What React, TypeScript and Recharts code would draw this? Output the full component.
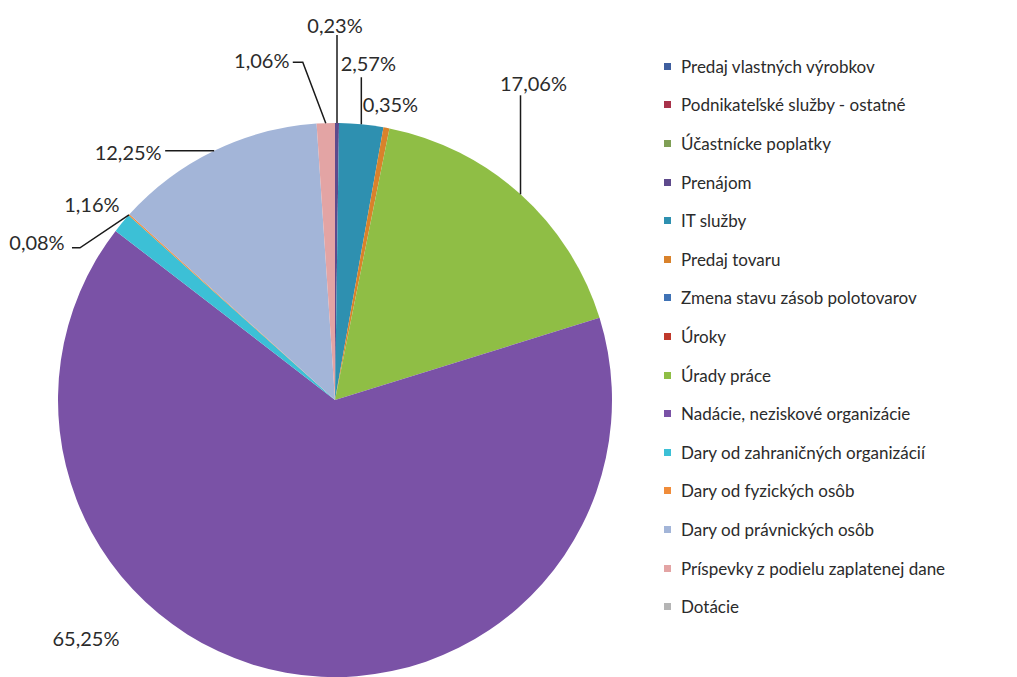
import React from 'react';
import { PieChart, Pie, Cell, Legend } from 'recharts';

const CATEGORIES = [
  'Predaj vlastných výrobkov',
  'Podnikateľské služby - ostatné',
  'Účastnícke poplatky',
  'Prenájom',
  'IT služby',
  'Predaj tovaru',
  'Zmena stavu zásob polotovarov',
  'Úroky',
  'Úrady práce',
  'Nadácie, neziskové organizácie',
  'Dary od zahraničných organizácií',
  'Dary od fyzických osôb',
  'Dary od právnických osôb',
  'Príspevky z podielu zaplatenej dane',
  'Dotácie',
];

// share of income, %
const SHARES = [0, 0, 0, 0.23, 2.57, 0.35, 0, 0, 17.06, 65.25, 1.16, 0.08, 12.25, 1.06, 0];

const COLORS = [
  '#3F5F9F',
  '#A8324A',
  '#7F9F55',
  '#5E4A8C',
  '#2E90B0',
  '#D9822B',
  '#3F72B5',
  '#C0392B',
  '#8FBE45',
  '#7A52A6',
  '#3CC0D6',
  '#F08C3A',
  '#A3B5D8',
  '#E3A4A4',
  '#B5B5B5',
];

const data = CATEGORIES.map((name, i) => ({ name, value: SHARES[i] }));

// label text offset from the slice's outer edge point, plus optional leader points
const LABEL_LAYOUT: Record<string, { dx: number; dy: number; line?: number[][] }> = {
  'Prenájom': { dx: -2, dy: -98, line: [[0, -88]] },
  'IT služby': { dx: 7, dy: -61, line: [[0, -47]] },
  'Predaj tovaru': { dx: 4, dy: -24 },
  'Úrady práce': { dx: 13, dy: -111, line: [[0, -99]] },
  'Nadácie, neziskové organizácie': { dx: -200, dy: -35 },
  'Dary od zahraničných organizácií': { dx: -30, dy: -19 },
  'Dary od fyzických osôb': { dx: -92, dy: 27, line: [[-49, 33], [-57, 33]] },
  'Dary od právnických osôb': { dx: -86, dy: 1, line: [[-49, 0]] },
  'Príspevky z podielu zaplatenej dane': { dx: -64, dy: -63, line: [[-23, -61], [-33, -61]] },
};

const RADIAN = Math.PI / 180;
const fmt = (v: number) => v.toFixed(2).replace('.', ',') + '%';

const renderLabel = (props: any) => {
  const { cx, cy, midAngle, outerRadius, value, name } = props;
  if (!value) return null;
  const ax = cx + outerRadius * Math.cos(-midAngle * RADIAN);
  const ay = cy + outerRadius * Math.sin(-midAngle * RADIAN);
  const lay = LABEL_LAYOUT[name] || { dx: 0, dy: -20 };
  const pts = lay.line ? [[0, 0], ...lay.line].map(([x, y]) => `${ax + x},${ay + y}`).join(' ') : null;
  return (
    <g>
      {pts && <polyline points={pts} fill="none" stroke="#1a1a1a" strokeWidth={1.5} />}
      <text
        x={ax + lay.dx}
        y={ay + lay.dy}
        textAnchor="middle"
        dominantBaseline="central"
        fill="#2b2b2b"
        fontSize={20}
        fontFamily="Lato"
      >
        {fmt(value)}
      </text>
    </g>
  );
};

const renderLegend = (props: any) => {
  const items = [...(props.payload || [])].sort(
    (a: any, b: any) => CATEGORIES.indexOf(a.value) - CATEGORIES.indexOf(b.value)
  );
  return (
    <div style={{ fontFamily: 'Lato', fontSize: 17, color: '#2b2b2b' }}>
      {items.map((entry: any) => (
        <div key={entry.value} style={{ height: 38.6, display: 'flex', alignItems: 'center' }}>
          <span
            style={{ width: 7, height: 7, background: entry.color, display: 'inline-block', marginRight: 10 }}
          />
          <span>{entry.value}</span>
        </div>
      ))}
    </div>
  );
};

export default function App() {
  return (
    <div style={{ position: 'absolute', left: 0, top: 0, background: '#fff' }}>
      <PieChart width={1017} height={677} margin={{ top: 0, right: 0, bottom: 0, left: 0 }}>
        <Pie
          data={data}
          dataKey="value"
          nameKey="name"
          cx={335}
          cy={400}
          outerRadius={277}
          startAngle={90}
          endAngle={-270}
          stroke="none"
          label={renderLabel}
          labelLine={false}
          isAnimationActive={false}
        >
          {data.map((d, i) => (
            <Cell key={d.name} fill={COLORS[i]} />
          ))}
        </Pie>
        <Legend
          layout="vertical"
          align="right"
          verticalAlign="top"
          content={renderLegend}
          wrapperStyle={{ left: 664, top: 47, width: 350 }}
        />
      </PieChart>
    </div>
  );
}
